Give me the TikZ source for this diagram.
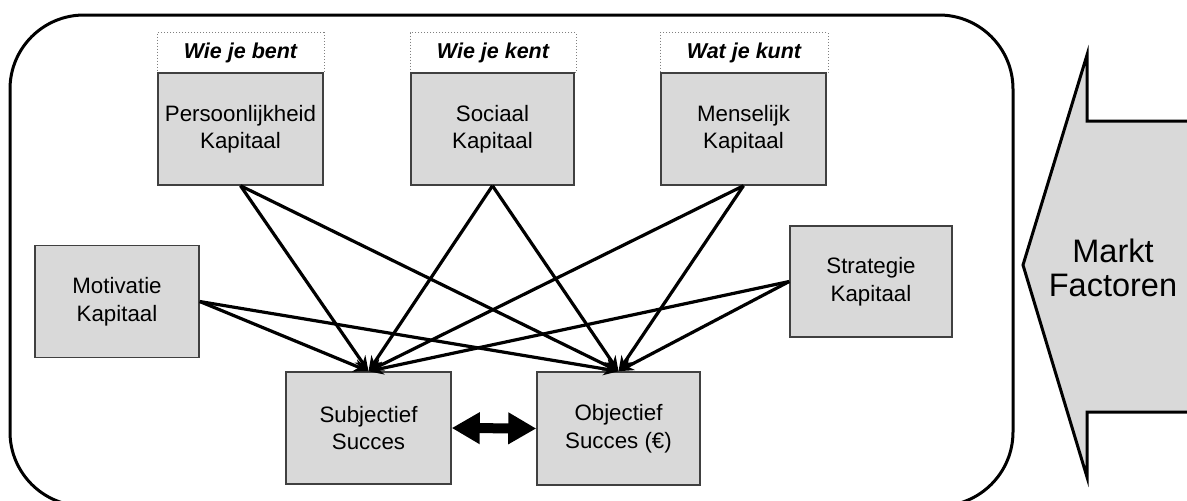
\documentclass[tikz,border=0pt]{standalone}
\usepackage{fontspec}
\setmainfont{Liberation Sans}
\usetikzlibrary{arrows.meta}
\definecolor{boxgray}{HTML}{D9D9D9}
\definecolor{edgegray}{HTML}{404040}
\begin{document}
\begin{tikzpicture}[x=1pt,y=-1pt,
  capbox/.style={draw=edgegray, fill=boxgray, line width=1.5pt, align=center, inner sep=0pt,
    font=\fontsize{22.3}{27.5}\selectfont},
  tagbox/.style={draw=gray, dotted, line width=1pt, fill=white, inner sep=0pt, minimum height=40pt,
    font=\fontsize{21.5}{24}\selectfont\bfseries\itshape},
  conn/.style={line width=3.2pt, -{Stealth[length=15pt,width=13pt]}},
  twoway/.style={line width=10pt, {Triangle[length=28pt,width=30pt]}-{Triangle[length=28pt,width=30pt]}}
]
\useasboundingbox (0,0) rectangle (1187,501);
% outer frame
\draw[line width=3pt, rounded corners=74pt] (10,15) rectangle (1013,506);
% market arrow
\draw[line width=3pt, fill=boxgray, line join=miter]
  (1023,265) -- (1087,55) -- (1087,121) -- (1200,121) -- (1200,412) -- (1087,412) -- (1087,477) -- cycle;
\node[font=\fontsize{32.5}{34}\selectfont, align=center] (markt) at (1113,268) {Markt\\Factoren};
% top tags
\node[tagbox, minimum width=167pt] (t1) at (240.5,52.5) {Wie je bent};
\node[tagbox, minimum width=166pt] (t2) at (493,52.5) {Wie je kent};
\node[tagbox, minimum width=168pt] (t3) at (744,52.5) {Wat je kunt};
% capital boxes
\node[capbox, minimum width=165pt, minimum height=112pt] (pk) at (240.5,129) {Persoonlijkheid\\Kapitaal};
\node[capbox, minimum width=163pt, minimum height=112pt] (sk) at (492.5,129) {Sociaal\\Kapitaal};
\node[capbox, minimum width=165pt, minimum height=112pt] (mk) at (743.5,129) {Menselijk\\Kapitaal};
\node[capbox, minimum width=164pt, minimum height=112pt] (mot) at (117,301.5) {Motivatie\\Kapitaal};
\node[capbox, minimum width=162pt, minimum height=111pt] (str) at (871,281.5) {Strategie\\Kapitaal};
\node[capbox, minimum width=165pt, minimum height=112pt] (subj) at (368.5,428) {Subjectief\\Succes};
\node[capbox, minimum width=163pt, minimum height=113pt] (obj) at (618.5,428.5) {Objectief\\Succes (€)};
% connectors
\foreach \s in {pk,sk,mk}{
  \draw[conn] (\s.south) -- (subj.north);
  \draw[conn] (\s.south) -- (obj.north);
}
\draw[conn] (mot.east) -- (subj.north);
\draw[conn] (mot.east) -- (obj.north);
\draw[conn] (str.west) -- (subj.north);
\draw[conn] (str.west) -- (obj.north);
\draw[twoway] (subj.east) -- (obj.west);
\end{tikzpicture}
\end{document}
